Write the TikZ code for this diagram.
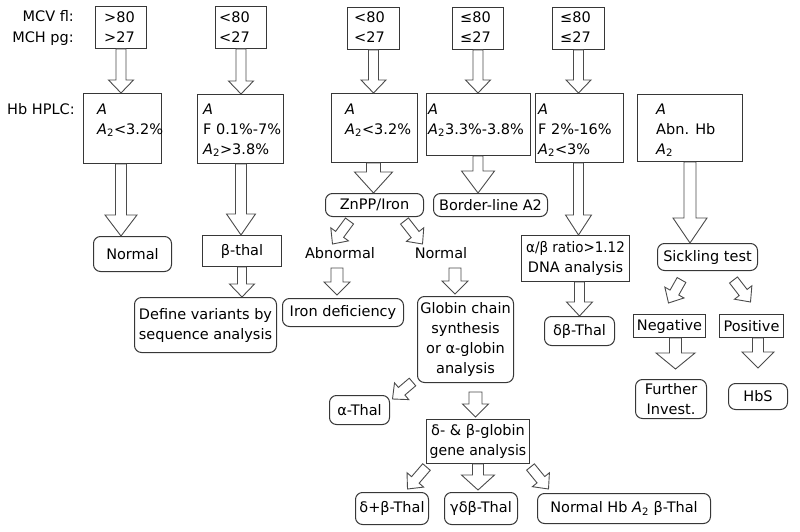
\documentclass[tikz,border=0pt]{standalone}
\usepackage{fontspec}
\setmainfont{DejaVu Sans}
\newfontfamily\narrowA[FakeStretch=0.93]{DejaVu Sans}
\newfontfamily\narrowB[FakeStretch=0.97]{DejaVu Sans}
\usetikzlibrary{calc}
\definecolor{lc}{RGB}{55,55,55}
\definecolor{ac}{RGB}{75,75,75}
\newcommand{\barr}[5]{%
  \coordinate (bh) at ($(#2)!#5!(#1)$);
  \draw[arr] ($(#1)!#3!90:(#2)$) -- ($(bh)!#3!90:(#2)$) -- ($(bh)!#4!90:(#2)$) -- (#2) -- ($(bh)!#4!-90:(#2)$) -- ($(bh)!#3!-90:(#2)$) -- ($(#1)!#3!-90:(#2)$) -- cycle;}
\newcommand{\Ait}{\textit{A}}
\newcommand{\Atwo}{\textit{A}\textsubscript{2}}
\begin{document}
\begin{tikzpicture}[x=1pt,y=-1pt,
  every node/.style={font=\fontsize{14.5}{20}\selectfont, text=black},
  bx/.style={draw=lc, line width=1pt, rectangle, inner sep=0pt, anchor=north west, align=center},
  rbx/.style={bx, rounded corners=7pt},
  arr/.style={draw=ac, fill=white, line width=0.9pt, line join=miter},
  txt/.style={inner sep=0pt, align=left, anchor=north west}]
\useasboundingbox (0,0) rectangle (800,532);

% left labels
\node[inner sep=0pt, anchor=base east] (lmcv) at (74,22) {MCV fl:};
\node[inner sep=0pt, anchor=base east] (lmch) at (74,43) {MCH pg:};
\node[inner sep=0pt, anchor=base west] (lhb) at (7,114) {Hb HPLC:};

% top boxes
\node[bx, minimum width=51pt, minimum height=42pt] (top1) at (95,6) {};
\node[bx, minimum width=51pt, minimum height=42pt] (top2) at (215,6) {};
\node[bx, minimum width=52pt, minimum height=42pt] (top3) at (347,7) {};
\node[bx, minimum width=51pt, minimum height=42pt] (top4) at (452,7) {};
\node[bx, minimum width=52pt, minimum height=42pt] (top5) at (552,7) {};
\node[txt] (tt1) at (104,8) {\strut>80\\>27};
\node[txt] (tt2) at (219,8) {\strut<80\\<27};
\node[txt] (tt3) at (354,8) {\strut<80\\<27};
\node[txt] (tt4) at (460,8) {\strut≤80\\≤27};
\node[txt] (tt5) at (560,8) {\strut≤80\\≤27};

% HPLC boxes
\node[bx, minimum width=78pt, minimum height=70pt] (hb1) at (83,93) {};
\node[bx, minimum width=86pt, minimum height=69pt] (hb2) at (197,94) {};
\node[bx, minimum width=86pt, minimum height=69pt] (hb3) at (331,93) {};
\node[bx, minimum width=104pt, minimum height=62pt] (hb4) at (426,93) {};
\node[bx, minimum width=88pt, minimum height=69pt] (hb5) at (535,93) {};
\node[bx, minimum width=105pt, minimum height=67pt] (hb6) at (637,94) {};
\node[txt] (ht1) at (97,100) {\strut\Ait\\\Atwo<3.2\%};
\node[txt] (ht2) at (203,100) {\strut\Ait\\F 0.1\%-7\%\\\Atwo>3.8\%};
\node[txt] (ht3) at (345,100) {\strut\Ait\\\Atwo<3.2\%};
\node[txt] (ht4) at (428,100) {\strut\Ait\\\Atwo3.3\%-3.8\%};
\node[txt] (ht5) at (538,100) {\strut\Ait\\F 2\%-16\%\\\Atwo<3\%};
\node[txt] (ht6) at (656,100) {\strut\Ait\\Abn. Hb\\\Atwo};

% second level
\node[rbx, minimum width=78pt, minimum height=35pt] (normal) at (93,236) {Normal};
\node[bx, minimum width=79pt, minimum height=31pt] (bthal) at (202,235) {β-thal};
\node[rbx, minimum width=142pt, minimum height=55pt] (define) at (134,297) {Define variants by\\sequence analysis};
\node[rbx, minimum width=98pt, minimum height=23pt] (znpp) at (325,193) {ZnPP/Iron};
\node[rbx, minimum width=114pt, minimum height=23pt] (border) at (433,193) {Border-line A2};
\node[inner sep=0pt] (abn) at (340,253) {Abnormal};
\node[inner sep=0pt] (nor) at (441,253) {Normal};
\node[rbx, minimum width=121pt, minimum height=28pt] (iron) at (282,298) {Iron deficiency};
\node[rbx, minimum width=96pt, minimum height=86pt] (globin) at (417,296) {Globin chain\\synthesis\\or α-globin\\analysis};
\node[bx, minimum width=108pt, minimum height=46pt] (ab) at (521,235) {{\narrowA α/β ratio>1.12}\\DNA analysis};
\node[rbx, minimum width=70pt, minimum height=29pt] (dbthal) at (544,316) {δβ-Thal};
\node[rbx, minimum width=100pt, minimum height=27pt] (sick) at (657,243) {Sickling test};
\node[bx, minimum width=72pt, minimum height=23pt] (neg) at (633,314) {Negative};
\node[bx, minimum width=64pt, minimum height=23pt] (pos) at (719,314) {Positive};
\node[rbx, minimum width=71pt, minimum height=39pt] (further) at (635,379) {Further\\Invest.};
\node[rbx, minimum width=59pt, minimum height=26pt] (hbs) at (728,383) {HbS};
\node[rbx, minimum width=60pt, minimum height=29pt] (athal) at (329,395) {α-Thal};
\node[bx, minimum width=103pt, minimum height=44pt] (dbg) at (426,419) {δ- \& β-globin\\{\narrowB gene analysis}};
\node[rbx, minimum width=73pt, minimum height=32pt] (b1) at (355,492) {δ+β-Thal};
\node[rbx, minimum width=73pt, minimum height=32pt] (b2) at (444,492) {γδβ-Thal};
\node[rbx, minimum width=173pt, minimum height=30pt] (b3) at (537,493) {Normal Hb \Atwo{} β-Thal};

% vertical block arrows from top boxes
\foreach \i in {1,...,5}{
  \coordinate (ta\i) at (top\i.south |- hb\i.north);
  \barr{top\i.south}{ta\i}{5pt}{12.5pt}{13pt}
}
\coordinate (c1a) at (top1.south |- hb1.south);
\coordinate (c1b) at (top1.south |- normal.north);
\barr{c1a}{c1b}{5.5pt}{16pt}{21pt}
\coordinate (c2a) at (top2.south |- hb2.south);
\coordinate (c2b) at (top2.south |- bthal.north);
\barr{c2a}{c2b}{5.5pt}{14.5pt}{21pt}
\coordinate (c3b) at (bthal.south |- define.north);
\barr{bthal.south}{c3b}{4.5pt}{12.5pt}{13pt}
\coordinate (c4a) at (top3.south |- hb3.south);
\coordinate (c4b) at (top3.south |- znpp.north);
\barr{c4a}{c4b}{7pt}{19pt}{21pt}
\coordinate (c5a) at (top4.south |- hb4.south);
\coordinate (c5b) at (top4.south |- border.north);
\barr{c5a}{c5b}{5pt}{16.5pt}{22pt}
\coordinate (c6a) at (top5.south |- hb5.south);
\coordinate (c6b) at (top5.south |- ab.north);
\barr{c6a}{c6b}{5pt}{13pt}{20pt}
\coordinate (c7a) at (dbthal.north |- ab.south);
\barr{c7a}{dbthal.north}{5pt}{13pt}{14pt}
\coordinate (c8b) at (hb6.south |- sick.north);
\barr{hb6.south}{c8b}{6pt}{17pt}{25pt}
\coordinate (c9a) at ($(neg.south)+(6,0)$);
\coordinate (c9b) at ($(neg.south)+(6,31)$);
\barr{c9a}{c9b}{6pt}{19.5pt}{16pt}
\coordinate (c10a) at (hbs.north |- pos.south);
\coordinate (c10b) at ($(hbs.north)+(0,-15)$);
\barr{c10a}{c10b}{5.5pt}{16pt}{16pt}
\coordinate (c11a) at ($(abn.center)+(-3,15)$);
\coordinate (c11b) at ($(c11a |- iron.north)+(0,-3)$);
\barr{c11a}{c11b}{6pt}{13pt}{13pt}
\coordinate (c12a) at ($(nor.center)+(14,15)$);
\coordinate (c12b) at ($(c12a |- globin.north)+(0,-2)$);
\barr{c12a}{c12b}{6pt}{13pt}{13pt}
\coordinate (c13a) at ($(globin.south)+(10,9)$);
\coordinate (c13b) at ($(c13a |- dbg.north)+(0,-2)$);
\barr{c13a}{c13b}{6.5pt}{13pt}{13pt}
\coordinate (c14b) at ($(dbg.south |- b2.north)+(0,-2)$);
\barr{dbg.south}{c14b}{5.5pt}{16.5pt}{15pt}

% diagonal block arrows
\coordinate (d1a) at ($(znpp.south)+(-25,4)$);
\coordinate (d1b) at ($(znpp.south)+(-42,27)$);
\barr{d1a}{d1b}{5pt}{11pt}{12pt}
\coordinate (d2a) at ($(znpp.south)+(30,4)$);
\coordinate (d2b) at ($(znpp.south)+(48,27)$);
\barr{d2a}{d2b}{5pt}{11pt}{12pt}
\coordinate (d3a) at ($(globin.south)+(-53,-1)$);
\coordinate (d3b) at ($(globin.south)+(-73,16)$);
\barr{d3a}{d3b}{5pt}{11pt}{12pt}
\coordinate (d4a) at ($(dbg.south)+(-51.5,3)$);
\coordinate (d4b) at ($(dbg.south)+(-70.5,25)$);
\barr{d4a}{d4b}{5pt}{11pt}{12pt}
\coordinate (d5a) at ($(dbg.south)+(52.5,3)$);
\coordinate (d5b) at ($(dbg.south)+(70.5,25)$);
\barr{d5a}{d5b}{5pt}{11pt}{12pt}
\coordinate (d6a) at ($(sick.south)+(-26,9)$);
\coordinate (d6b) at ($(sick.south)+(-39,32)$);
\barr{d6a}{d6b}{5pt}{11pt}{12pt}
\coordinate (d7a) at ($(sick.south)+(26,9)$);
\coordinate (d7b) at ($(sick.south)+(43,31)$);
\barr{d7a}{d7b}{5pt}{11pt}{12pt}
\end{tikzpicture}
\end{document}
